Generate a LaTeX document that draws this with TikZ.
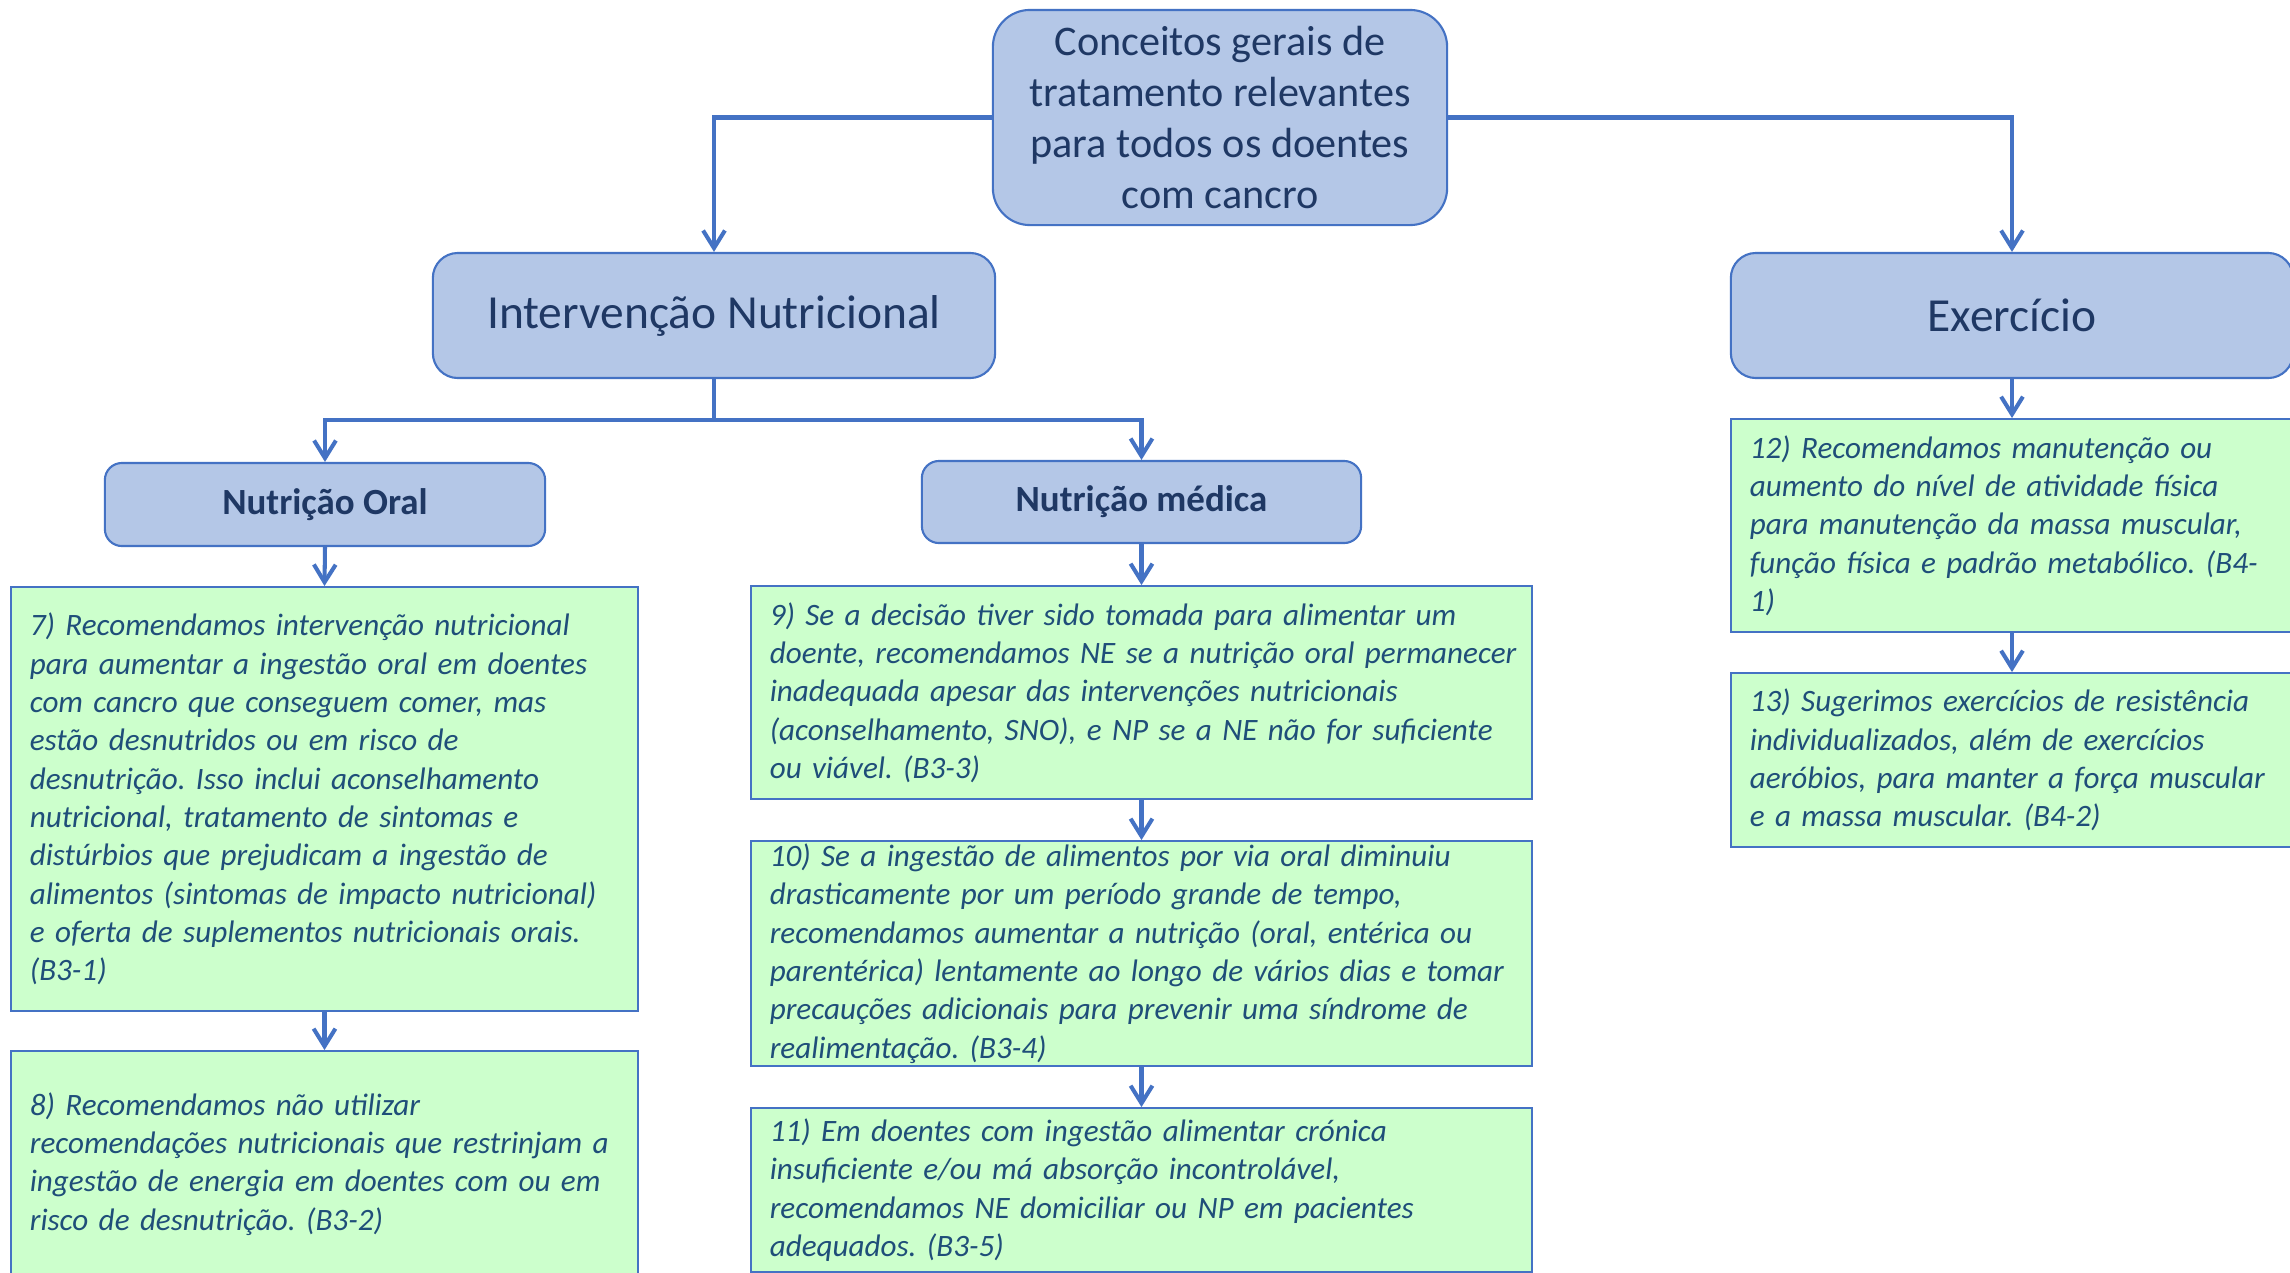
\documentclass[tikz,border=0pt]{standalone}
\usepackage{fontspec}
\setmainfont{Carlito}
\usetikzlibrary{arrows.meta}
\definecolor{lineblue}{HTML}{4472C4}
\definecolor{boxblue}{HTML}{B4C7E7}
\definecolor{boxgreen}{HTML}{CCFFCC}
\definecolor{titletext}{HTML}{1F3864}
\definecolor{bodytext}{HTML}{1F4E79}
\frenchspacing
\begin{document}
\begin{tikzpicture}[x=0.01cm,y=-0.01cm,
  conn/.style={draw=lineblue, line width=1.15pt, -{Straight Barb[length=5pt,width=6.2pt]}},
  plainconn/.style={draw=lineblue, line width=1.15pt},
  topbox/.style={draw=lineblue, line width=0.6pt, fill=boxblue, rounded corners=0.37cm,
    text=titletext, align=center, font=\fontsize{12}{14.5}\selectfont,
    minimum width=4.54cm, minimum height=2.15cm, inner sep=0pt},
  catbox/.style={draw=lineblue, line width=0.6pt, fill=boxblue, rounded corners=0.25cm,
    text=titletext, align=center, font=\fontsize{13.5}{16}\selectfont,
    minimum width=5.62cm, minimum height=1.25cm, inner sep=0pt},
  subbox/.style={draw=lineblue, line width=0.6pt, fill=boxblue, rounded corners=0.17cm,
    text=titletext, align=center, font=\fontsize{10.5}{12.5}\selectfont\bfseries,
    minimum width=4.4cm, minimum height=0.83cm, inner sep=0pt},
  recbox/.style={draw=lineblue, line width=0.5pt, fill=boxgreen, text=bodytext,
    align=left, font=\fontsize{8.85}{10.9}\selectfont\itshape,
    inner xsep=0.19cm, inner ysep=0pt}
]
\fill[white] (0,0) rectangle (2290,1272);
\useasboundingbox (0,0) rectangle (2290,1272);

% top level
\node[topbox] (top) at (1220,117.5) {Conceitos gerais de\\tratamento relevantes\\para todos os doentes\\com cancro};

% categories
\node[catbox] (intv) at (714,315.5) {Intervenção Nutricional};
\node[catbox] (exer) at (2012,315.5) {Exercício};

% sub categories
\node[subbox] (oral) at (325,504.5) {Nutrição Oral};
\node[subbox, minimum width=4.39cm, minimum height=0.82cm] (med) at (1141.5,502) {Nutrição médica};

% recommendation boxes
\node[recbox, text width=5.89cm, minimum height=4.24cm] (b7) at (324.5,799) {%
\mbox{7) Recomendamos intervenção nutricional}\\
\mbox{para aumentar a ingestão oral em doentes}\\
\mbox{com cancro que conseguem comer, mas}\\
\mbox{estão desnutridos ou em risco de}\\
\mbox{desnutrição. Isso inclui aconselhamento}\\
\mbox{nutricional, tratamento de sintomas e}\\
\mbox{distúrbios que prejudicam a ingestão de}\\
\mbox{alimentos (sintomas de impacto nutricional)}\\
\mbox{e oferta de suplementos nutricionais orais.}\\
\mbox{(B3-1)}};

\node[recbox, text width=5.89cm, minimum height=2.26cm] (b8) at (324.5,1164) {%
\mbox{8) Recomendamos não utilizar}\\
\mbox{recomendações nutricionais que restrinjam a}\\
\mbox{ingestão de energia em doentes com ou em}\\
\mbox{risco de desnutrição. (B3-2)}};

\node[recbox, text width=7.43cm, minimum height=2.13cm] (b9) at (1141.5,692.5) {%
\mbox{9) Se a decisão tiver sido tomada para alimentar um}\\
\mbox{doente, recomendamos NE se a nutrição oral permanecer}\\
\mbox{inadequada apesar das intervenções nutricionais}\\
\mbox{(aconselhamento, SNO), e NP se a NE não for suficiente}\\
\mbox{ou viável. (B3-3)}};

\node[recbox, text width=7.43cm, minimum height=2.25cm] (b10) at (1141.5,953.5) {%
\mbox{10) Se a ingestão de alimentos por via oral diminuiu}\\
\mbox{drasticamente por um período grande de tempo,}\\
\mbox{recomendamos aumentar a nutrição (oral, entérica ou}\\
\mbox{parentérica) lentamente ao longo de vários dias e tomar}\\
\mbox{precauções adicionais para prevenir uma síndrome de}\\
\mbox{realimentação. (B3-4)}};

\node[recbox, text width=7.43cm, minimum height=1.64cm] (b11) at (1141.5,1190) {%
\mbox{11) Em doentes com ingestão alimentar crónica}\\
\mbox{insuficiente e/ou má absorção incontrolável,}\\
\mbox{recomendamos NE domiciliar ou NP em pacientes}\\
\mbox{adequados. (B3-5)}};

\node[recbox, text width=5.24cm, minimum height=2.13cm] (b12) at (2012,525.5) {%
\mbox{12) Recomendamos manutenção ou}\\
\mbox{aumento do nível de atividade física}\\
\mbox{para manutenção da massa muscular,}\\
\mbox{função física e padrão metabólico. (B4-}\\
\mbox{1)}};

\node[recbox, text width=5.24cm, minimum height=1.74cm] (b13) at (2012,760) {%
\mbox{13) Sugerimos exercícios de resistência}\\
\mbox{individualizados, além de exercícios}\\
\mbox{aeróbios, para manter a força muscular}\\
\mbox{e a massa muscular. (B4-2)}};

% connectors
\draw[conn] (top.west) -| (intv.north);
\draw[conn] (top.east) -| (exer.north);
\coordinate (j) at (714,420);
\draw[plainconn] (intv.south) -- (j);
\draw[conn] (j) -| (oral.north);
\draw[conn] (j) -| (med.north);
\draw[conn] (oral.south) -- (b7.north);
\draw[conn] (b7.south) -- (b8.north);
\draw[conn] (med.south) -- (b9.north);
\draw[conn] (b9.south) -- (b10.north);
\draw[conn] (b10.south) -- (b11.north);
\draw[conn] (exer.south) -- (b12.north);
\draw[conn] (b12.south) -- (b13.north);
\end{tikzpicture}
\end{document}
